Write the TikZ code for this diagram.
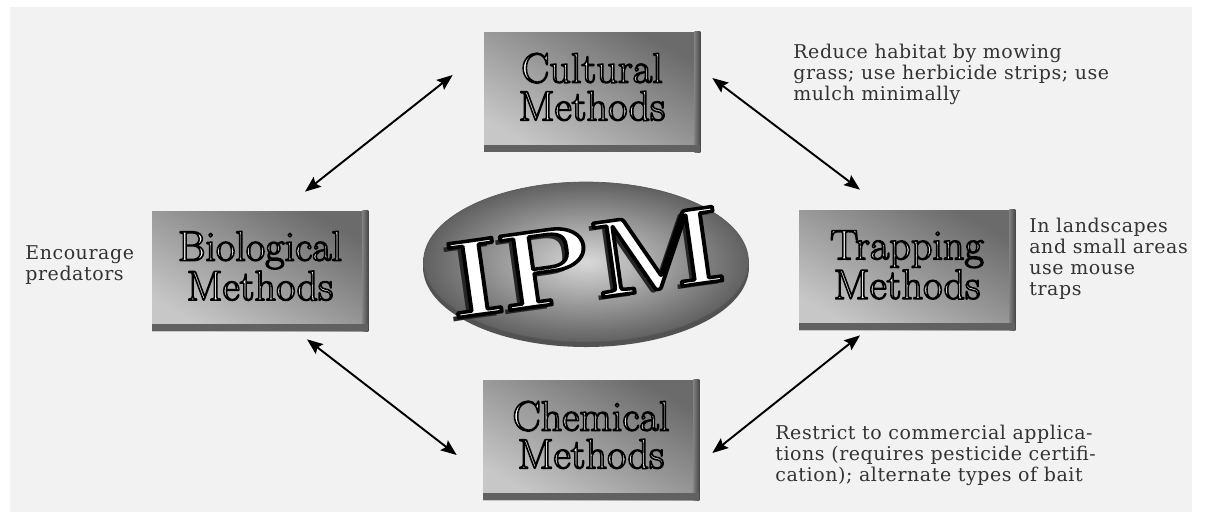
\documentclass[tikz,border=0pt]{standalone}
\usepackage{fontspec}
\usetikzlibrary{arrows.meta,shapes.geometric}
\newfontfamily\notefont{DejaVu Serif}[LetterSpace=3]
% outlined letters: fill with the text colour, stroke in black
\newcommand{\outl}[2][0.9]{\special{pdf:literal direct 2 Tr 1 j #1 w 0 G}#2\special{pdf:literal direct 0 Tr}}

\tikzset{
  methbox/.style={rectangle, minimum width=4.32cm, minimum height=2.4cm,
    top color=black!58, bottom color=black!22, shading angle=-30,
    text=white, align=center, text depth=6pt, font=\fontsize{24}{21.5}\selectfont},
  notetext/.style={anchor=base west, align=left, inner sep=0pt, text=black!80,
    font=\notefont\fontsize{10.8}{11.95}\selectfont},
  link/.style={{Stealth[length=9pt,width=7pt,inset=1.5pt]}-{Stealth[length=9pt,width=7pt,inset=1.5pt]},
    line width=1.1pt}
}

\begin{document}
\begin{tikzpicture}[x=0.02cm, y=-0.02cm]
  % Page
  \fill[white] (0,0) rectangle (1217,512);
  \fill[black!5] (10,7) rectangle (1192,512);
  \useasboundingbox (0,0) rectangle (1217,512);

  % Central ellipse
  \fill[black!68] (586,267) ellipse (163 and 80);
  \node[ellipse, minimum width=6.5cm, minimum height=3.2cm, inner sep=0pt,
    inner color=black!15, outer color=black!62, draw=black!65] (hub) at (586,262) {};

  % IPM lettering
  \node[font=\bfseries\fontsize{62}{62}\selectfont, text=black!85, rotate=8, xscale=1.12]
    (ipmshadow) at ([shift={(-4,4)}]hub.center) {IPM};
  \node[font=\bfseries\fontsize{62}{62}\selectfont, text=white, rotate=8, xscale=1.12]
    (ipm) at (hub.center) {\outl[2]{IPM}};

  % Method boxes
  \node[methbox] (cult) at (592,92) {\outl{Cultural}\\\outl{Methods}};
  \node[methbox] (biol) at (260,271) {\outl{Biological}\\\outl{Methods}};
  \node[methbox] (trap) at (907,270) {\outl{Trapping}\\\outl{Methods}};
  \node[methbox] (chem) at (591,440) {\outl{Chemical}\\\outl{Methods}};

  % Box edges
  \foreach \n in {cult,biol,trap,chem} {
    \shade[left color=black!50, right color=black!72]
      ([xshift=-0.12cm]\n.north east) rectangle (\n.south east);
    \fill[black!62] (\n.south west) rectangle ([yshift=0.14cm]\n.south east);
  }

  % Links
  \draw[link] ([shift={(-31,-17)}]cult.west) -- ([shift={(45,-19)}]biol.north);
  \draw[link] ([shift={(12,-14)}]cult.east) -- ([shift={(-47,-20)}]trap.north);
  \draw[link] ([shift={(47,8)}]biol.south) -- ([shift={(-26,15)}]chem.west);
  \draw[link] ([shift={(-47,5)}]trap.south) -- ([shift={(13,13)}]chem.east);

  % Notes (placed at the baseline of their last line)
  \node[notetext] (cultnote) at (793,100)
    {Reduce habitat by mowing\\grass; use herbicide strips; use\\mulch minimally};
  \node[notetext] (biolnote) at (25,280) {Encourage\\predators};
  \node[notetext] (trapnote) at (1029,295)
    {In landscapes\\and small areas\\use mouse\\traps};
  \node[notetext] (chemnote) at (775,481)
    {Restrict to commercial applica-\\tions (requires pesticide certifi-\\cation); alternate types of bait};
\end{tikzpicture}
\end{document}
